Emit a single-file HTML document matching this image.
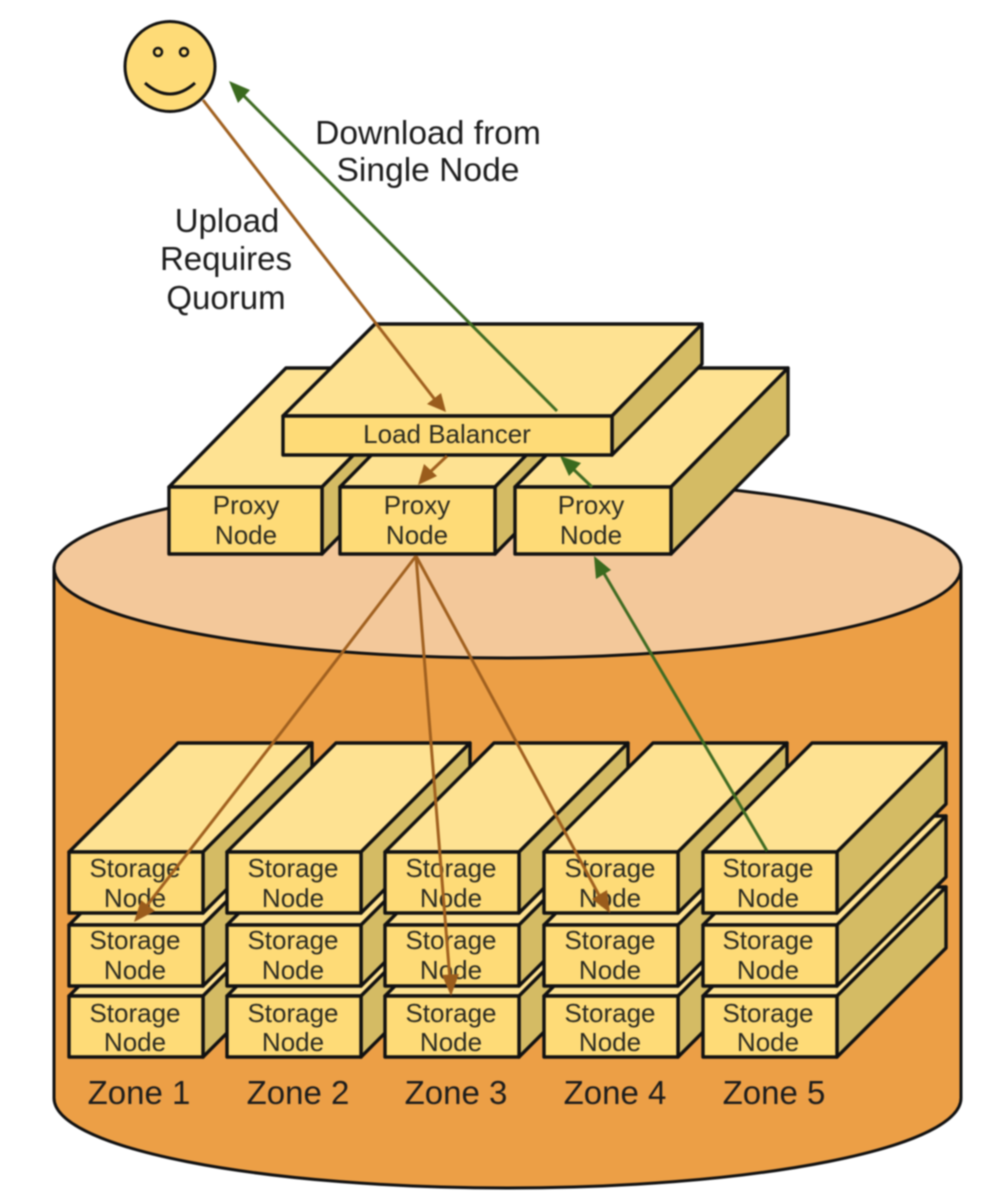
<!DOCTYPE html>
<html><head><meta charset="utf-8"><style>
html,body{margin:0;padding:0;background:#fff}
svg{display:block;filter:blur(.7px)}
text{font-family:"Liberation Sans",sans-serif;fill:#2a2a20;text-anchor:middle}
.s{font-size:26px}.z{font-size:33px;fill:#1c1c1c}.l{font-size:33px;fill:#1c1c1c}.d{font-size:33.6px;fill:#1c1c1c}
</style></head><body>
<svg width="988" height="1194" viewBox="0 0 988 1194" xmlns="http://www.w3.org/2000/svg">
<defs>
<g id="sb" stroke="#111" stroke-width="3.4" stroke-linejoin="round">
<polygon points="0,0 109,-109 243,-109 134,0" fill="#fee292"/>
<polygon points="134,0 243,-109 243,-48 134,61" fill="#d4bb64"/>
<rect x="0" y="0" width="134" height="61" fill="#fedb77"/>
</g>
</defs>
<path d="M54,568 V1098 A453.5,90 0 0 0 961,1098 V568 Z" fill="#ec9f46" stroke="#111" stroke-width="3"/>
<ellipse cx="507.500" cy="568" rx="453.500" ry="90" fill="#f3c89a" stroke="#111" stroke-width="3"/>

<g stroke="#111" stroke-width="3.4" stroke-linejoin="round">
<polygon points="169,487 286,368 439,368 322,487" fill="#fee292"/><polygon points="322,487 439,368 439,435 322,554" fill="#d4bb64"/><rect x="169" y="487" width="153" height="67" fill="#fedb77"/>
<polygon points="340,487 457,368 612,368 495,487" fill="#fee292"/><polygon points="495,487 612,368 612,435 495,554" fill="#d4bb64"/><rect x="340" y="487" width="155" height="67" fill="#fedb77"/>
<polygon points="515,487 632,368 788,368 671,487" fill="#fee292"/><polygon points="671,487 788,368 788,435 671,554" fill="#d4bb64"/><rect x="515" y="487" width="156" height="67" fill="#fedb77"/>
<polygon points="283,416 375,324 702,324 612,416" fill="#fee292"/><polygon points="612,416 702,324 702,364 612,455" fill="#d4bb64"/><rect x="283" y="416" width="329" height="39" fill="#fedb77"/>
</g>

<g>
<use href="#sb" x="69" y="996"/><use href="#sb" x="69" y="925"/><use href="#sb" x="69" y="852"/>
<use href="#sb" x="227" y="996"/><use href="#sb" x="227" y="925"/><use href="#sb" x="227" y="852"/>
<use href="#sb" x="385" y="996"/><use href="#sb" x="385" y="925"/><use href="#sb" x="385" y="852"/>
<use href="#sb" x="544" y="996"/><use href="#sb" x="544" y="925"/><use href="#sb" x="544" y="852"/>
<use href="#sb" x="703" y="996"/><use href="#sb" x="703" y="925"/><use href="#sb" x="703" y="852"/>
</g>

<circle cx="170" cy="66.500" r="45" fill="#fedb77" stroke="#111" stroke-width="3"/>
<circle cx="158" cy="52" r="4" fill="#fedb77" stroke="#111" stroke-width="2.500"/>
<circle cx="184" cy="52" r="4" fill="#fedb77" stroke="#111" stroke-width="2.500"/>
<path d="M145,83 Q170,105 195,83" fill="none" stroke="#111" stroke-width="3"/>

<g>
<text class="s" x="246" y="514">Proxy</text><text class="s" x="246" y="544">Node</text>
<text class="s" x="417" y="514">Proxy</text><text class="s" x="417" y="544">Node</text>
<text class="s" x="591" y="514">Proxy</text><text class="s" x="591" y="544">Node</text>
<text class="s" x="447" y="443">Load Balancer</text>
<text class="s" x="135" y="877">Storage</text><text class="s" x="135" y="907">Node</text>
<text class="s" x="135" y="949">Storage</text><text class="s" x="135" y="979">Node</text>
<text class="s" x="135" y="1022">Storage</text><text class="s" x="135" y="1051">Node</text>
<text class="s" x="293" y="877">Storage</text><text class="s" x="293" y="907">Node</text>
<text class="s" x="293" y="949">Storage</text><text class="s" x="293" y="979">Node</text>
<text class="s" x="293" y="1022">Storage</text><text class="s" x="293" y="1051">Node</text>
<text class="s" x="451" y="877">Storage</text><text class="s" x="451" y="907">Node</text>
<text class="s" x="451" y="949">Storage</text><text class="s" x="451" y="979">Node</text>
<text class="s" x="451" y="1022">Storage</text><text class="s" x="451" y="1051">Node</text>
<text class="s" x="610" y="877">Storage</text><text class="s" x="610" y="907">Node</text>
<text class="s" x="610" y="949">Storage</text><text class="s" x="610" y="979">Node</text>
<text class="s" x="610" y="1022">Storage</text><text class="s" x="610" y="1051">Node</text>
<text class="s" x="768" y="877">Storage</text><text class="s" x="768" y="907">Node</text>
<text class="s" x="768" y="949">Storage</text><text class="s" x="768" y="979">Node</text>
<text class="s" x="768" y="1022">Storage</text><text class="s" x="768" y="1051">Node</text>
</g>

<text class="z" x="139" y="1104">Zone 1</text>
<text class="z" x="298" y="1104">Zone 2</text>
<text class="z" x="456" y="1104">Zone 3</text>
<text class="z" x="615" y="1104">Zone 4</text>
<text class="z" x="774" y="1104">Zone 5</text>
<text class="d" x="428" y="144">Download from</text>
<text class="d" x="428" y="181">Single Node</text>
<text class="l" x="227" y="232">Upload</text>
<text class="l" x="226" y="270">Requires</text>
<text class="l" x="226" y="309">Quorum</text>

<g fill="none" stroke="#a0601f" stroke-width="3">
<path d="M203,100 L436,401"/><path d="M447,456 L428,474"/>
<path d="M416,556 L283,730 L145,908"/><path d="M416,556 L450,980"/><path d="M416,556 L600,897"/>
</g>
<g fill="#9a5c1c">
<polygon points="446,412 427,404 441,393"/>
<polygon points="418,485 424,464 437,476"/>
<polygon points="134,922 141,900 155,911"/>
<polygon points="451,996 442,975 459,974"/>
<polygon points="610,913 592,899 607,890"/>
</g>
<g fill="none" stroke="#3f6b22" stroke-width="3">
<path d="M557,411 L240,92"/><path d="M592,487 L570,466"/><path d="M767,851 L602,570"/>
</g>
<g fill="#3a6a1e">
<polygon points="229,81 250,90 238,103"/>
<polygon points="560,456 581,463 569,476"/>
<polygon points="594,556 611,570 596,579"/>
</g>
</svg>
</body></html>
